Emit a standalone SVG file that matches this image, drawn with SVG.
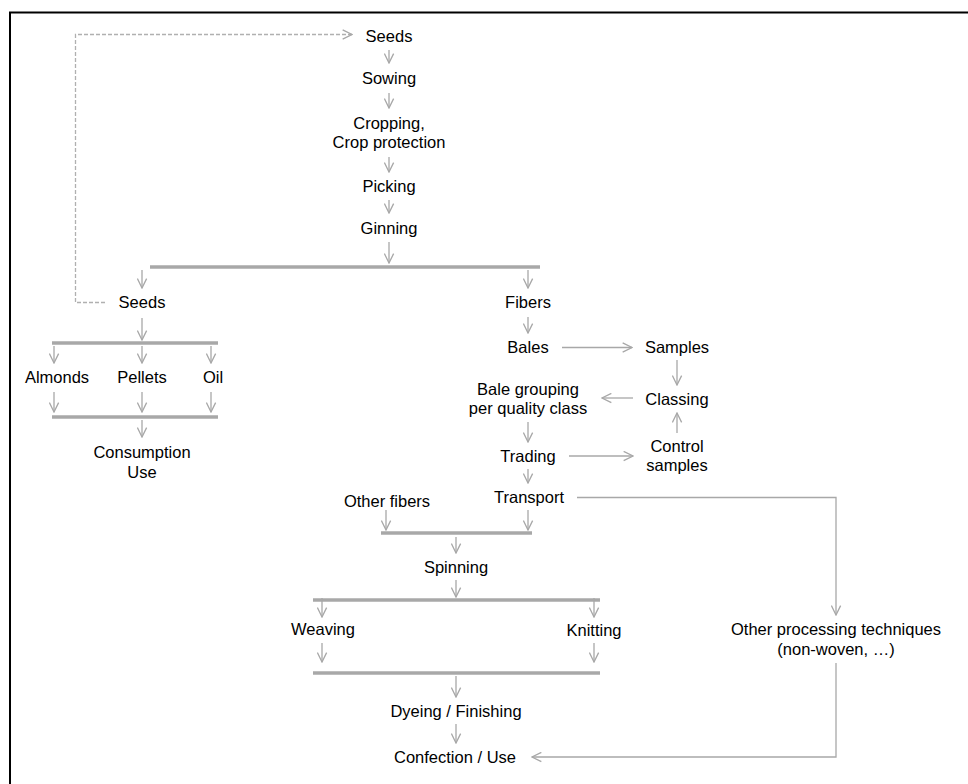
<svg xmlns="http://www.w3.org/2000/svg" width="968" height="784" viewBox="0 0 968 784">
<defs>
<marker id="ah" viewBox="0 0 10 10" refX="9.5" refY="5" markerWidth="11" markerHeight="11" markerUnits="userSpaceOnUse" orient="auto">
<path d="M1,0.8 L9.5,5 L1,9.2" fill="none" stroke="#a8a8a8" stroke-width="1.2"/>
</marker>
<style>
text{font-family:"Liberation Sans",Arial,sans-serif;font-size:16.5px;fill:#000;text-anchor:middle}
.c{fill:none;stroke:#a8a8a8;stroke-width:1.3;marker-end:url(#ah)}
.d{fill:none;stroke:#b0b0b0;stroke-width:1.3;stroke-dasharray:4 2;marker-end:url(#ah)}
.b{fill:none;stroke:#a8a8a8;stroke-width:3.5}
</style>
</defs>
<rect width="968" height="784" fill="#fff"/>
<path d="M10,784 V12.5 H968" fill="none" stroke="#000" stroke-width="2"/>
<g id="connectors">
<path class="d" d="M105,302.5 H75.5 V34.5 H352"/>
<path class="c" d="M389,50 V63"/>
<path class="c" d="M389,93 V108"/>
<path class="c" d="M389,157 V172"/>
<path class="c" d="M389,200 V213"/>
<path class="c" d="M389,242 V263"/>
<path class="b" d="M150,267 H540"/>
<path class="c" d="M142,270 V288"/>
<path class="c" d="M528,270 V288"/>
<path class="c" d="M142,318 V340"/>
<path class="b" d="M52,343 H218"/>
<path class="c" d="M54,346 V363"/>
<path class="c" d="M142,346 V363"/>
<path class="c" d="M211,346 V363"/>
<path class="c" d="M54,392 V412"/>
<path class="c" d="M142,392 V412"/>
<path class="c" d="M211,392 V412"/>
<path class="b" d="M52,417 H218"/>
<path class="c" d="M142,420 V437"/>
<path class="c" d="M528,317 V333"/>
<path class="c" d="M562,347.5 H632"/>
<path class="c" d="M677,360 V385"/>
<path class="c" d="M633,398 H602"/>
<path class="c" d="M528,422 V442"/>
<path class="c" d="M569,456 H633"/>
<path class="c" d="M677,433 V413"/>
<path class="c" d="M528,469 V483"/>
<path class="c" d="M577,497.5 H836 V615"/>
<path class="c" d="M386,510 V530"/>
<path class="c" d="M528,510 V530"/>
<path class="b" d="M381,533 H532"/>
<path class="c" d="M456,537 V553"/>
<path class="c" d="M456,580 V597"/>
<path class="b" d="M313,600 H600"/>
<path class="c" d="M322,598 V617"/>
<path class="c" d="M594,598 V617"/>
<path class="c" d="M322,643 V662"/>
<path class="c" d="M594,643 V662"/>
<path class="b" d="M313,673 H600"/>
<path class="c" d="M456,676 V697"/>
<path class="c" d="M456,724 V743"/>
<path class="c" d="M836,663 V757 H532"/>
</g>
<g id="n-seeds-top"><text x="389" y="42">Seeds</text></g>
<g id="n-sowing"><text x="389" y="84">Sowing</text></g>
<g id="n-cropping"><text x="389" y="129">Cropping,</text><text x="389" y="148">Crop protection</text></g>
<g id="n-picking"><text x="389" y="192">Picking</text></g>
<g id="n-ginning"><text x="389" y="234">Ginning</text></g>
<g id="n-seeds"><text x="142" y="308">Seeds</text></g>
<g id="n-fibers"><text x="528" y="308">Fibers</text></g>
<g id="n-almonds"><text x="57" y="383">Almonds</text></g>
<g id="n-pellets"><text x="142" y="383">Pellets</text></g>
<g id="n-oil"><text x="213" y="383">Oil</text></g>
<g id="n-consumption"><text x="142" y="458">Consumption</text><text x="142" y="478">Use</text></g>
<g id="n-bales"><text x="528" y="353">Bales</text></g>
<g id="n-samples"><text x="677" y="353">Samples</text></g>
<g id="n-balegrouping"><text x="528" y="395">Bale grouping</text><text x="528" y="414">per quality class</text></g>
<g id="n-classing"><text x="677" y="405">Classing</text></g>
<g id="n-trading"><text x="528" y="462">Trading</text></g>
<g id="n-control"><text x="677" y="452">Control</text><text x="677" y="471">samples</text></g>
<g id="n-transport"><text x="529" y="503">Transport</text></g>
<g id="n-otherfibers"><text x="387" y="507">Other fibers</text></g>
<g id="n-spinning"><text x="456" y="573">Spinning</text></g>
<g id="n-weaving"><text x="323" y="635">Weaving</text></g>
<g id="n-knitting"><text x="594" y="636">Knitting</text></g>
<g id="n-other"><text x="836" y="635">Other processing techniques</text><text x="836" y="655">(non-woven, …)</text></g>
<g id="n-dyeing"><text x="456" y="717">Dyeing / Finishing</text></g>
<g id="n-confection"><text x="455" y="763">Confection / Use</text></g>
</svg>
